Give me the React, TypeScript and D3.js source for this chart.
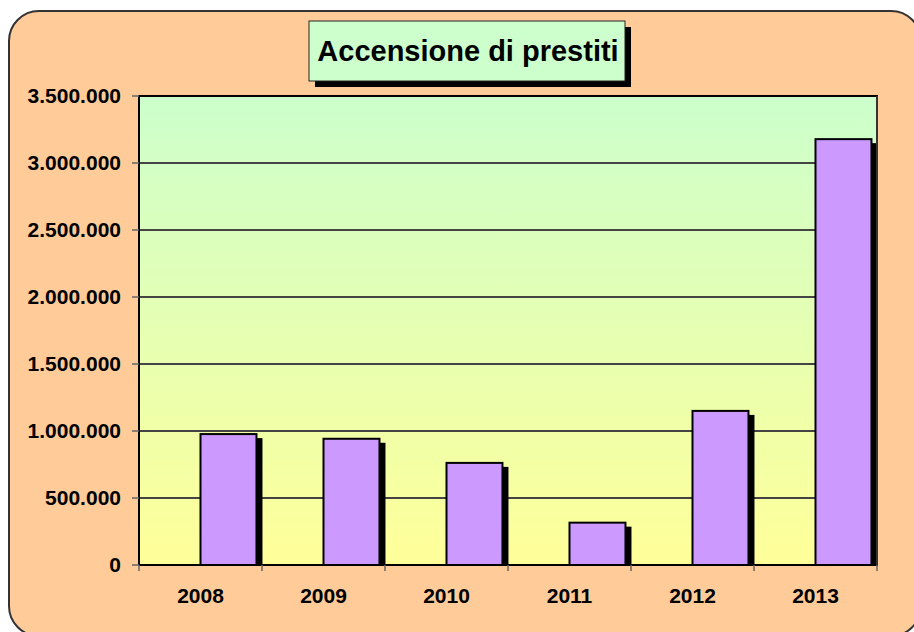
import React from 'react';
import * as d3 from 'd3';

const years = ['2008', '2009', '2010', '2011', '2012', '2013'];
const values = [977000, 942000, 762000, 316000, 1150000, 3178000];
const yTicks = [0, 500000, 1000000, 1500000, 2000000, 2500000, 3000000, 3500000];
const title = 'Accensione di prestiti';

const W = 914;
const H = 632;
const FONT = '"Liberation Sans", Arial, sans-serif';

export default function App() {
  const left = 139, right = 877, top = 96, bottom = 565;
  const x = d3.scaleBand<string>().domain(years).range([left, right]).padding(0);
  const y = d3.scaleLinear().domain([0, 3500000]).range([bottom, top]);
  const bw = x.bandwidth();
  const barW = bw * 0.455;
  const fmt = d3.formatLocale({ decimal: ',', thousands: '.', grouping: [3], currency: ['', ''] }).format(',d');
  const boundaries = years.map((d) => x(d) as number).concat([right]);

  return (
    <svg width={W} height={H} style={{ position: 'fixed', left: 0, top: 0 }} fontFamily={FONT}>
      <defs>
        <linearGradient id="plotGrad" x1="0" y1="0" x2="0" y2="1">
          <stop offset="0" stopColor="#CCFFCC" />
          <stop offset="1" stopColor="#FFFF99" />
        </linearGradient>
      </defs>
      <rect x={0} y={0} width={W} height={H} fill="#fff" />
      <rect x={9} y={11} width={912} height={625} rx={30} ry={30} fill="#FFCC99" stroke="#333" strokeWidth={2} />

      {/* Title */}
      <rect x={315} y={27} width={316} height={60} fill="#000" />
      <rect x={309} y={21} width={316} height={60} fill="#CCFFCC" stroke="#222" strokeWidth={1} />
      <text x={468} y={61} textAnchor="middle" fontWeight="bold" fontSize={29} fill="#000">{title}</text>

      {/* Plot area */}
      <rect x={left} y={top} width={right - left} height={bottom - top} fill="url(#plotGrad)" />
      {yTicks.map((t) => (
        <line key={'g' + t} x1={left} x2={right} y1={y(t)} y2={y(t)} stroke="#444" strokeWidth={2} />
      ))}

      {/* Shadows */}
      {years.map((yr, i) => {
        const bx = (x(yr) as number) + bw / 2;
        const by = y(values[i]);
        return <rect key={'s' + yr} x={bx + 6} y={by + 4} width={barW} height={bottom - by - 4} fill="#000" />;
      })}
      {/* Bars */}
      {years.map((yr, i) => {
        const bx = (x(yr) as number) + bw / 2;
        const by = y(values[i]);
        return <rect key={'b' + yr} x={bx} y={by} width={barW} height={bottom - by} fill="#CC99FF" stroke="#000" strokeWidth={2} />;
      })}

      {/* Plot border */}
      <rect x={left} y={top} width={right - left} height={bottom - top} fill="none" stroke="#000" strokeWidth={2} />
      <line x1={right} x2={right} y1={top} y2={bottom} stroke="#333" strokeWidth={2} />

      {/* Y axis */}
      {yTicks.map((t) => (
        <g key={'y' + t}>
          <line x1={left - 7} x2={left} y1={y(t)} y2={y(t)} stroke="#666" strokeWidth={1.5} />
          <text x={121} y={y(t)} dy="0.35em" textAnchor="end" fontWeight="bold" fontSize={21} fill="#000">{fmt(t)}</text>
        </g>
      ))}

      {/* X axis */}
      {boundaries.map((b, i) => (
        <line key={'xt' + i} x1={b} x2={b} y1={bottom} y2={bottom + 6} stroke="#666" strokeWidth={1.5} />
      ))}
      {years.map((yr) => (
        <text key={'x' + yr} x={(x(yr) as number) + bw / 2} y={603} textAnchor="middle" fontWeight="bold" fontSize={21} fill="#000">{yr}</text>
      ))}
    </svg>
  );
}
